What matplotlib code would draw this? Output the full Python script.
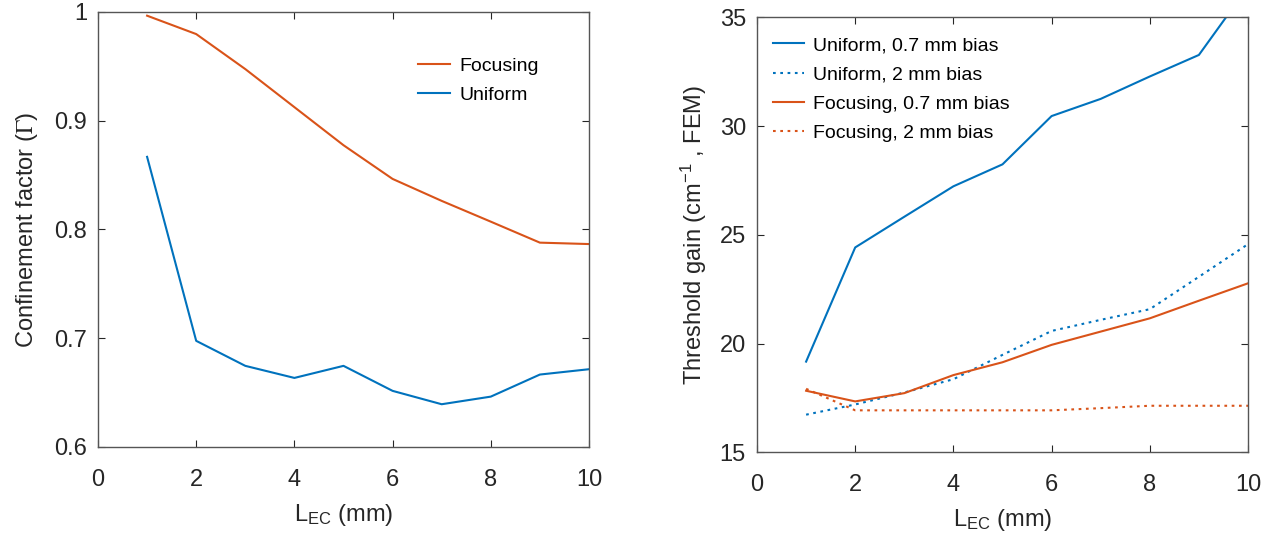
#!/usr/bin/env python

import numpy as np
import matplotlib.pyplot as plt

plt.rcParams['font.family'] = ['Liberation Sans', 'DejaVu Sans']
plt.rcParams['mathtext.fontset'] = 'stix'

## data
L_ec = [1, 2, 3, 4, 5, 6, 7, 8, 9, 10]

# confinement factor
conf_focusing = [0.9966, 0.9797, 0.9475, 0.9125, 0.8775, 0.8465, 0.8263, 0.8072, 0.7879, 0.7866]
conf_uniform = [0.8668, 0.6976, 0.6746, 0.6635, 0.6746, 0.6516, 0.6393, 0.6463, 0.6666, 0.6715]

# threshold gain (cm^-1)
gain_uni_07 = [19.17, 24.42, 25.83, 27.23, 28.24, 30.46, 31.25, 32.28, 33.27, 36.4]
gain_uni_2 = [16.73, 17.2, 17.75, 18.36, 19.48, 20.58, 21.09, 21.58, 23.07, 24.57]
gain_foc_07 = [17.83, 17.34, 17.72, 18.55, 19.14, 19.94, 20.55, 21.16, 21.97, 22.77]
gain_foc_2 = [17.92, 16.93, 16.93, 16.93, 16.93, 16.93, 17.03, 17.14, 17.14, 17.14]

blue = '#0072BD'
orange = '#D95319'
axcol = '#262626'
dots = (0, (1.3, 2.2))

fig = plt.figure(figsize=(12.71, 5.33), dpi=100)


def style(ax):
    ax.tick_params(direction='in', top=True, right=True, length=5, width=0.8,
                   labelsize=17, colors=axcol)
    ax.tick_params(axis='x', pad=15.5)
    ax.tick_params(axis='y', pad=8)
    for s in ax.spines.values():
        s.set_color('#555555')
        s.set_linewidth(1.0)


## left: confinement factor
ax1 = fig.add_axes([0.0771, 0.1614, 0.3863, 0.8161])
ax1.plot(L_ec, conf_focusing, color=orange, lw=1.5, label='Focusing')
ax1.plot(L_ec, conf_uniform, color=blue, lw=1.5, label='Uniform')
ax1.set_xlim(0, 10)
ax1.set_ylim(0.6, 1)
ax1.set_xticks(np.arange(0, 11, 2))
ax1.set_yticks([0.6, 0.7, 0.8, 0.9, 1.0])
ax1.set_yticklabels(['0.6', '0.7', '0.8', '0.9', '1'])
ax1.set_xlabel(r'$\mathregular{L_{EC}}$ (mm)', fontsize=17, color=axcol, labelpad=8)
ax1.set_ylabel(r'Confinement factor ($\Gamma$)', fontsize=17, color=axcol, labelpad=10)
style(ax1)
ax1.legend(loc='upper left', bbox_to_anchor=(0.617, 0.936), frameon=False, fontsize=14,
           handlelength=1.6, labelspacing=0.6, handletextpad=0.5)

## right: threshold gain
ax2 = fig.add_axes([0.5956, 0.1514, 0.3863, 0.8161])
ax2.plot(L_ec, gain_uni_07, color=blue, lw=1.5, label='Uniform, 0.7 mm bias')
ax2.plot(L_ec, gain_uni_2, color=blue, lw=1.5, ls=dots, label='Uniform, 2 mm bias')
ax2.plot(L_ec, gain_foc_07, color=orange, lw=1.5, label='Focusing, 0.7 mm bias')
ax2.plot(L_ec, gain_foc_2, color=orange, lw=1.5, ls=dots, label='Focusing, 2 mm bias')
ax2.set_xlim(0, 10)
ax2.set_ylim(15, 35)
ax2.set_xticks(np.arange(0, 11, 2))
ax2.set_yticks([15, 20, 25, 30, 35])
ax2.set_xlabel(r'$\mathregular{L_{EC}}$ (mm)', fontsize=17, color=axcol, labelpad=8)
ax2.set_ylabel(r'Threshold gain (cm$\mathregular{^{-1}}$ , FEM)', fontsize=17, color=axcol, labelpad=8)
style(ax2)
ax2.legend(loc='upper left', bbox_to_anchor=(-0.004, 0.996), frameon=False, fontsize=14,
           handlelength=1.6, labelspacing=0.6, handletextpad=0.5)

fig.savefig('out.png', dpi=100)
